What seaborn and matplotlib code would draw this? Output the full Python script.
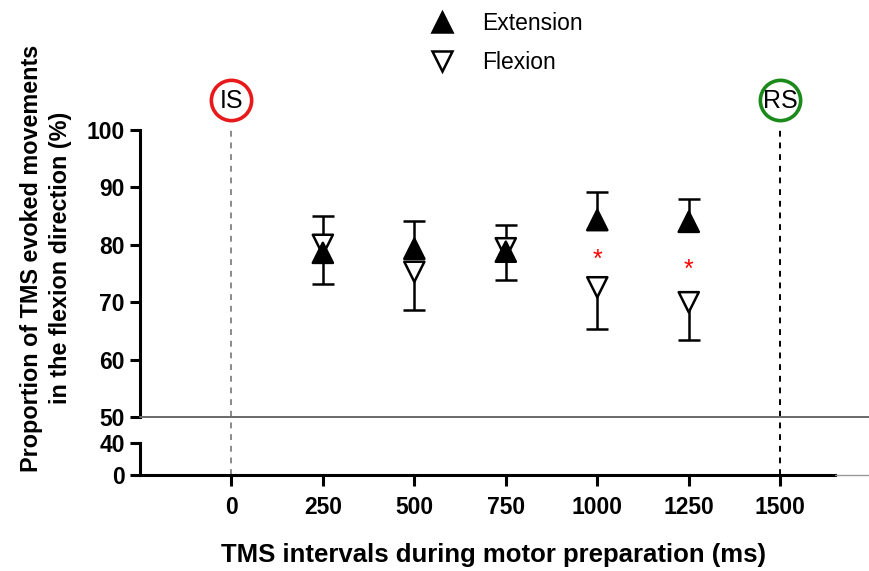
import matplotlib
matplotlib.use('Agg')
import matplotlib.pyplot as plt
import matplotlib.transforms as mtransforms
from matplotlib.lines import Line2D
import numpy as np
import pandas as pd
import seaborn as sns

# values (mean, one-sided error bar)
intervals = [250, 500, 750, 1000, 1250]
extension = [78.6, 79.3, 78.8, 84.3, 84.0]
extension_err = [6.4, 4.8, 4.6, 4.9, 4.0]
flexion = [80.0, 75.3, 79.4, 72.6, 70.0]
flexion_err = [6.8, 6.7, 5.5, 7.3, 6.6]

star_intervals = [1000, 1250]
star_y = [77.4, 75.7]

x_ticks = [0, 250, 500, 750, 1000, 1250, 1500]
top_y_ticks = [50, 60, 70, 80, 90, 100]
bottom_y_ticks = [0, 40]

events = ['IS', 'RS']
event_times = [0, 1500]
event_colors = ['#e8191a', '#1a8a1a']
event_line_colors = ['#8a8a8a', 'black']


def main():
    sns.set_style('white')
    plt.rcParams['font.family'] = ['Liberation Sans', 'DejaVu Sans']
    plt.rcParams.update({'text.color': 'black', 'axes.labelcolor': 'black',
                         'xtick.color': 'black', 'ytick.color': 'black'})

    # flexion first so that extension markers sit on top
    df = pd.concat([
        pd.DataFrame({'interval': intervals, 'value': flexion, 'movement': 'Flexion'}),
        pd.DataFrame({'interval': intervals, 'value': extension, 'movement': 'Extension'}),
    ], ignore_index=True)

    fig = plt.figure(figsize=(8.69, 5.71), dpi=100)
    left, width = 0.161, 0.800
    ax_top = fig.add_axes([left, 0.2697, width, 0.5026])
    ax_bot = fig.add_axes([left, 0.168, width, 0.056])
    for ax in (ax_top, ax_bot):
        ax.set_facecolor('none')
        ax.set_xlim(-250, 1650)
        for s in ('top', 'right'):
            ax.spines[s].set_visible(False)
        ax.spines['left'].set_linewidth(2.2)
        ax.spines['left'].set_color('black')

    # error bars: extension upward, flexion downward
    ext_top = np.array(extension) + np.array(extension_err)
    flex_bot = np.array(flexion) - np.array(flexion_err)
    ax_top.vlines(intervals, extension, ext_top, color='black', lw=1.8, zorder=2)
    ax_top.vlines(intervals, flex_bot, flexion, color='black', lw=1.8, zorder=2)
    ax_top.plot(intervals, ext_top, ls='none', marker='_', ms=16, mew=1.8, color='black', zorder=2)
    ax_top.plot(intervals, flex_bot, ls='none', marker='_', ms=16, mew=1.8, color='black', zorder=2)

    sns.scatterplot(data=df, x='interval', y='value', hue='movement', style='movement',
                    markers={'Extension': '^', 'Flexion': 'v'},
                    palette={'Extension': 'black', 'Flexion': 'white'},
                    edgecolor='black', linewidth=1.8, s=210, legend=False, zorder=3, ax=ax_top)

    for x, y in zip(star_intervals, star_y):
        ax_top.text(x, y, '*', color='red', fontsize=18, ha='center', va='center')

    ax_top.set_ylim(50, 100)
    ax_top.set_yticks(top_y_ticks)
    ax_top.set_xticks([])
    ax_top.spines['bottom'].set_visible(False)
    ax_top.set_xlabel('')
    ax_top.set_ylabel('')

    ax_bot.set_ylim(0, 40)
    ax_bot.set_yticks(bottom_y_ticks)
    ax_bot.set_xticks(x_ticks)
    ax_bot.spines['bottom'].set_linewidth(2.2)
    ax_bot.spines['bottom'].set_color('black')

    for ax in (ax_top, ax_bot):
        ax.tick_params(axis='y', direction='out', length=7, width=2.2, pad=4,
                       labelsize=16.5, left=True)
        ax.tick_params(axis='x', direction='out', length=8, width=2.2, pad=7,
                       labelsize=16.5, bottom=True)
        for lbl in ax.get_yticklabels() + ax.get_xticklabels():
            lbl.set_fontweight('bold')

    # gray line at 50 and the faint continuation of the x axis
    y50 = 0.2697
    fig.add_artist(Line2D([left, 1.0], [y50, y50], transform=fig.transFigure,
                          color='#6a6a6a', lw=1.4))
    fig.add_artist(Line2D([left + width, 1.0], [0.168, 0.168], transform=fig.transFigure,
                          color='#9a9a9a', lw=1.0))

    # event markers: dashed lines and circled labels
    trans = mtransforms.blended_transform_factory(ax_top.transData, fig.transFigure)
    y_low = ax_bot.get_position().y0
    y_high = ax_top.get_position().y1
    for name, t, c, lc in zip(events, event_times, event_colors, event_line_colors):
        ax_top.plot([t, t], [y_low, y_high], transform=trans, clip_on=False,
                    color=lc, lw=1.4, ls=(0, (3, 3)), zorder=1)
        ax_top.plot([t], [0.825], transform=trans, clip_on=False, marker='o', ms=29,
                    mfc='white', mec=c, mew=2.6, ls='none', zorder=4)
        ax_top.text(t, 0.823, name, transform=trans, ha='center', va='center',
                    fontsize=18, zorder=5)

    handles = [
        Line2D([], [], marker='^', ls='none', mfc='black', mec='black', ms=14.5, mew=1.8),
        Line2D([], [], marker='v', ls='none', mfc='white', mec='black', ms=14.5, mew=1.8),
    ]
    fig.legend(handles, ['Extension', 'Flexion'], loc='upper left',
               bbox_to_anchor=(0.48, 1.0), frameon=False, fontsize=16.5,
               borderpad=0.02, handlelength=1.1, handletextpad=1.2, labelspacing=0.72)

    fig.text(0.053, 0.548, 'Proportion of TMS evoked movements\nin the flexion direction (%)',
             rotation=90, ha='center', va='center', fontsize=16.8, fontweight='bold',
             linespacing=1.3)
    fig.text(0.568, 0.028, 'TMS intervals during motor preparation (ms)',
             ha='center', va='center', fontsize=18.5, fontweight='bold')

    fig.savefig('out.png', dpi=100)
    plt.close(fig)


if __name__ == '__main__':
    main()
